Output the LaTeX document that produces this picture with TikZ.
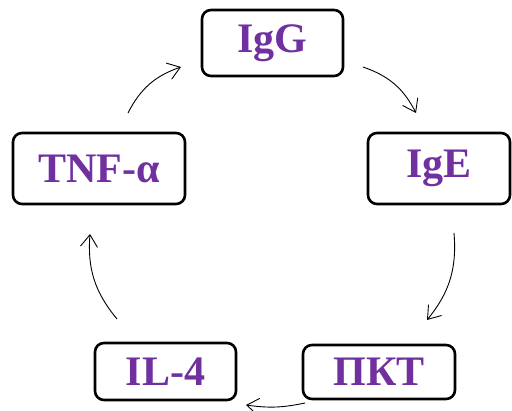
\documentclass[tikz,border=0pt]{standalone}
\usepackage{fontspec}
\setmainfont{Liberation Serif}
\usetikzlibrary{arrows.meta}
\definecolor{cellpurple}{HTML}{7030A0}
\tikzset{
  cellbox/.style={draw=black, line width=2.6pt, rounded corners=9pt, fill=white,
    text=cellpurple, font=\fontsize{42}{48}\selectfont\bfseries, inner sep=0pt},
  cyclearrow/.style={-{Straight Barb[length=12pt,width=17pt]}, line width=0.9pt, bend left=22}
}
\begin{document}
\begin{tikzpicture}[x=1pt,y=1pt]
			\useasboundingbox (0,0) rectangle (512,411);
			\node[cellbox, minimum width=141pt, minimum height=66pt] (IgG) at (272.5,368) {IgG};
			\node[cellbox, minimum width=142pt, minimum height=71pt] (IgE) at (439,242.5) {IgE};
			\node[cellbox, minimum width=172pt, minimum height=71pt] (TNF) at (99,242.5) {TNF-α};
			\node[cellbox, minimum width=141pt, minimum height=57pt] (IL4) at (165.5,39.5) {IL-4};
			\node[cellbox, minimum width=152pt, minimum height=54pt] (PKT) at (379,39) {ПКТ};
			\coordinate (a1) at (128,298);
			\coordinate (b1) at (181,344);
			\coordinate (a2) at (363,344);
			\coordinate (b2) at (416,298);
			\coordinate (a3) at (454,178);
			\coordinate (b3) at (427,91);
			\coordinate (a4) at (305,8);
			\coordinate (b4) at (246,6);
			\coordinate (a5) at (117,92);
			\coordinate (b5) at (90,177);
            \draw[cyclearrow] (a1) to (b1);
            \draw[cyclearrow] (a2) to (b2);
            \draw[cyclearrow] (a3) to (b3);
            \draw[cyclearrow, bend left=10] (a4) to (b4);
            \draw[cyclearrow] (a5) to (b5);
		\end{tikzpicture}
\end{document}
